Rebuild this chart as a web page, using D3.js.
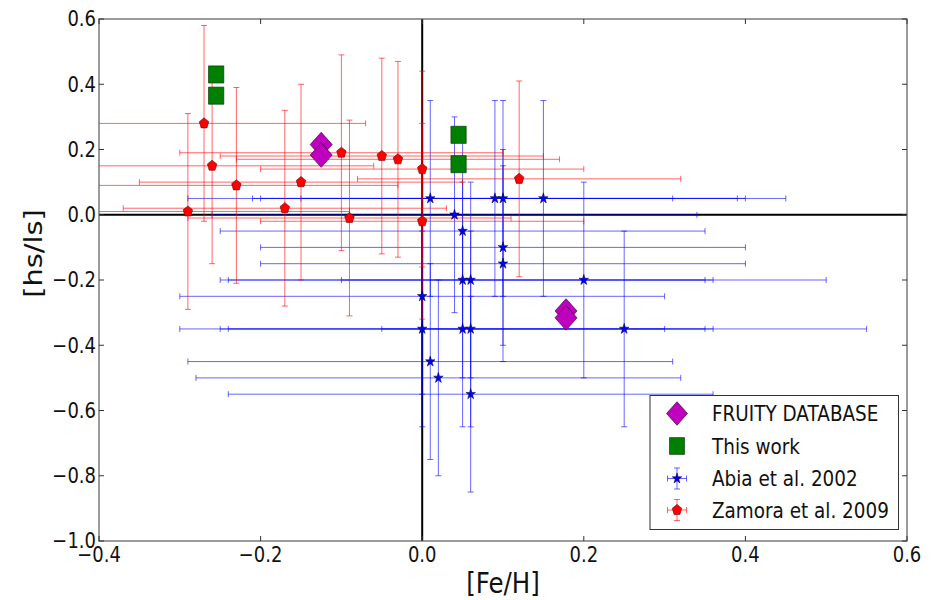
<!DOCTYPE html>
<html><head><meta charset="utf-8">
<script src="https://cdn.jsdelivr.net/npm/d3@7/dist/d3.min.js"></script>
<style>body{margin:0;background:#fff}svg{display:block;font-family:"DejaVu Sans",sans-serif}</style>
</head><body><svg id="c" width="938" height="600"></svg>
<script>
// ---- data ----
const fruityFeH = [-0.125, -0.125, 0.178, 0.178];
const fruityHsLs = [0.215, 0.183, -0.295, -0.316];

const thisWorkFeH = [-0.255, -0.255, 0.045, 0.045];
const thisWorkHsLs = [0.43, 0.365, 0.245, 0.155];

const abiaFeH  = [0.01, 0.09, 0.10, 0.15, 0.04, 0.05, 0.10, 0.10, 0.05, 0.06, 0.20, 0.00, 0.00, 0.05, 0.06, 0.25, 0.01, 0.02, 0.06];
const abiaHsLs = [0.05, 0.05, 0.05, 0.05, 0.00, -0.05, -0.10, -0.15, -0.20, -0.20, -0.20, -0.25, -0.35, -0.35, -0.35, -0.35, -0.45, -0.50, -0.55];
const abiaXErr = 0.3;
const abiaYErr = 0.3;

const zamoraFeH  = [-0.29, -0.27, -0.26, -0.23, -0.17, -0.15, -0.10, -0.09, -0.05, -0.03, 0.00, 0.00, 0.12];
const zamoraHsLs = [0.01, 0.28, 0.15, 0.09, 0.02, 0.10, 0.19, -0.01, 0.18, 0.17, 0.14, -0.02, 0.11];
const zamoraXErr = 0.2;
const zamoraYErr = 0.3;

const xTickVals = [-0.4, -0.2, 0.0, 0.2, 0.4, 0.6];
const yTickVals = [0.6, 0.4, 0.2, 0.0, -0.2, -0.4, -0.6, -0.8, -1.0];
const legendLabels = ["FRUITY DATABASE", "This work", "Abia et al. 2002", "Zamora et al. 2009"];

// ---- layout ----
const W = 938, H = 600;
const m = {l: 99, r: 31, t: 19, b: 59};
const SY = 1.18;      // vertical stretch of the original figure
const svg = d3.select("#c");
const x = d3.scaleLinear().domain([-0.4, 0.6]).range([m.l, W - m.r]);
const y = d3.scaleLinear().domain([-1.0, 0.6]).range([H - m.b, m.t]);
const fmt = d3.format(".1f");

svg.append("defs").append("clipPath").attr("id", "clip")
  .append("rect").attr("x", m.l).attr("y", m.t).attr("width", W - m.l - m.r).attr("height", H - m.t - m.b);

const plot = svg.append("g").attr("clip-path", "url(#clip)");

// zero lines
plot.append("line").attr("x1", x(0)).attr("x2", x(0)).attr("y1", m.t).attr("y2", H - m.b)
  .attr("stroke", "#000").attr("stroke-width", 2);
plot.append("line").attr("x1", m.l).attr("x2", W - m.r).attr("y1", y(0)).attr("y2", y(0))
  .attr("stroke", "#000").attr("stroke-width", 2);

// marker paths
function starPath(R) {
  const r = R * 0.382, pts = [];
  for (let i = 0; i < 10; i++) {
    const a = -Math.PI / 2 + i * Math.PI / 5, rr = i % 2 ? r : R;
    pts.push([rr * Math.cos(a), rr * Math.sin(a)]);
  }
  return d3.line()(pts) + "Z";
}
function pentPath(R) {
  const pts = [];
  for (let i = 0; i < 5; i++) {
    const a = -Math.PI / 2 + i * 2 * Math.PI / 5;
    pts.push([R * Math.cos(a), R * Math.sin(a)]);
  }
  return d3.line()(pts) + "Z";
}
function diamondPath(R) { return d3.line()([[0, -R], [R, 0], [0, R], [-R, 0]]) + "Z"; }
function squarePath(s) { const h = s / 2; return d3.line()([[-h, -h], [h, -h], [h, h], [-h, h]]) + "Z"; }
const MS = 1.12;
const at = (px, py) => `translate(${px},${py}) scale(1,${MS})`;

function errorBars(g, xs, ys, xe, ye, color) {
  const cap = 3;
  xs.forEach((xv, i) => {
    const yv = ys[i];
    const x0 = x(xv - xe), x1 = x(xv + xe), yc = y(yv);
    const y0 = y(yv - ye), y1 = y(yv + ye), xc = x(xv);
    const gg = g.append("g").attr("stroke", color).attr("stroke-opacity", 0.6).attr("stroke-width", 1).attr("fill", "none");
    gg.append("line").attr("x1", x0).attr("x2", x1).attr("y1", yc).attr("y2", yc);
    gg.append("line").attr("x1", xc).attr("x2", xc).attr("y1", y0).attr("y2", y1);
    [x0, x1].forEach(xx => gg.append("line").attr("x1", xx).attr("x2", xx).attr("y1", yc - cap).attr("y2", yc + cap));
    [y0, y1].forEach(yy => gg.append("line").attr("x1", xc - cap).attr("x2", xc + cap).attr("y1", yy).attr("y2", yy));
  });
}

// Abia (blue stars)
errorBars(plot, abiaFeH, abiaHsLs, abiaXErr, abiaYErr, "#0000ff");
// Zamora (red pentagons)
errorBars(plot, zamoraFeH, zamoraHsLs, zamoraXErr, zamoraYErr, "#ff0000");

plot.selectAll(".star").data(abiaFeH).join("path")
  .attr("d", starPath(5)).attr("transform", (d, i) => at(x(d), y(abiaHsLs[i])))
  .attr("fill", "#0000ff").attr("stroke", "#000033").attr("stroke-width", 0.5);
plot.selectAll(".pent").data(zamoraFeH).join("path")
  .attr("d", pentPath(5)).attr("transform", (d, i) => at(x(d), y(zamoraHsLs[i])))
  .attr("fill", "#ff0000").attr("stroke", "#550000").attr("stroke-width", 0.5);

// This work (green squares)
plot.selectAll(".sq").data(thisWorkFeH).join("path")
  .attr("d", squarePath(15.3)).attr("transform", (d, i) => at(x(d), y(thisWorkHsLs[i])))
  .attr("fill", "#008000").attr("stroke", "#003300").attr("stroke-width", 0.6);

// FRUITY (magenta diamonds)
plot.selectAll(".dm").data(fruityFeH).join("path")
  .attr("d", diamondPath(11)).attr("transform", (d, i) => at(x(d), y(fruityHsLs[i])))
  .attr("fill", "#bf00bf").attr("stroke", "#330033").attr("stroke-width", 0.6);

// frame
svg.append("rect").attr("x", m.l).attr("y", m.t).attr("width", W - m.l - m.r).attr("height", H - m.t - m.b)
  .attr("fill", "none").attr("stroke", "#666").attr("stroke-width", 1.3);

// ticks (inward, all sides)
const tl = 5;
const tg = svg.append("g").attr("stroke", "#333").attr("stroke-width", 1);
xTickVals.forEach(v => {
  tg.append("line").attr("x1", x(v)).attr("x2", x(v)).attr("y1", H - m.b).attr("y2", H - m.b - tl);
  tg.append("line").attr("x1", x(v)).attr("x2", x(v)).attr("y1", m.t).attr("y2", m.t + tl);
});
yTickVals.forEach(v => {
  tg.append("line").attr("x1", m.l).attr("x2", m.l + tl).attr("y1", y(v)).attr("y2", y(v));
  tg.append("line").attr("x1", W - m.r).attr("x2", W - m.r - tl).attr("y1", y(v)).attr("y2", y(v));
});

// text helper (stretched vertically like the original)
function txt(g, px, py, s, size, anchor, extra) {
  return g.append("text").attr("transform", `translate(${px},${py}) scale(1,${SY})` + (extra || ""))
    .attr("text-anchor", anchor).attr("font-size", size).attr("fill", "#111").text(s);
}

// tick labels
xTickVals.forEach(v => txt(svg, x(v), 562, fmt(v), 18, "middle"));
yTickVals.forEach(v => txt(svg, m.l - 3, y(v) + 6.2 * SY, fmt(v), 18, "end"));

// axis labels
txt(svg, (m.l + W - m.r) / 2, 593, "[Fe/H]", 24.5, "middle");
txt(svg, 42, 253.5, "[hs/ls]", 24.5, "middle", " rotate(-90)");

// legend
const lg = svg.append("g");
lg.append("rect").attr("x", 650).attr("y", 395.5).attr("width", 248.5).attr("height", 134)
  .attr("fill", "#fff").attr("stroke", "#333").attr("stroke-width", 1);
const ly = [413.5, 446, 478.5, 510];
const lx = 677;
lg.append("path").attr("d", diamondPath(10.5)).attr("transform", at(lx, ly[0]))
  .attr("fill", "#bf00bf").attr("stroke", "#330033").attr("stroke-width", 0.6);
lg.append("path").attr("d", squarePath(15)).attr("transform", at(lx, ly[1]))
  .attr("fill", "#008000").attr("stroke", "#003300").attr("stroke-width", 0.6);
function legErr(yy, color) {
  const g = lg.append("g").attr("stroke", color).attr("stroke-opacity", 0.6);
  g.append("line").attr("x1", lx - 9.5).attr("x2", lx + 9.5).attr("y1", yy).attr("y2", yy);
  g.append("line").attr("x1", lx).attr("x2", lx).attr("y1", yy - 10.5).attr("y2", yy + 10.5);
  [lx - 9.5, lx + 9.5].forEach(xx => g.append("line").attr("x1", xx).attr("x2", xx).attr("y1", yy - 3).attr("y2", yy + 3));
  [yy - 10.5, yy + 10.5].forEach(v => g.append("line").attr("x1", lx - 3).attr("x2", lx + 3).attr("y1", v).attr("y2", v));
}
legErr(ly[2], "#0000ff");
lg.append("path").attr("d", starPath(5)).attr("transform", at(lx, ly[2]))
  .attr("fill", "#0000ff").attr("stroke", "#000033").attr("stroke-width", 0.5);
legErr(ly[3], "#ff0000");
lg.append("path").attr("d", pentPath(5)).attr("transform", at(lx, ly[3]))
  .attr("fill", "#ff0000").attr("stroke", "#550000").attr("stroke-width", 0.5);
legendLabels.forEach((s, i) => txt(lg, 712, ly[i] + 6.6 * SY, s, 18.4, "start"));
</script></body></html>
